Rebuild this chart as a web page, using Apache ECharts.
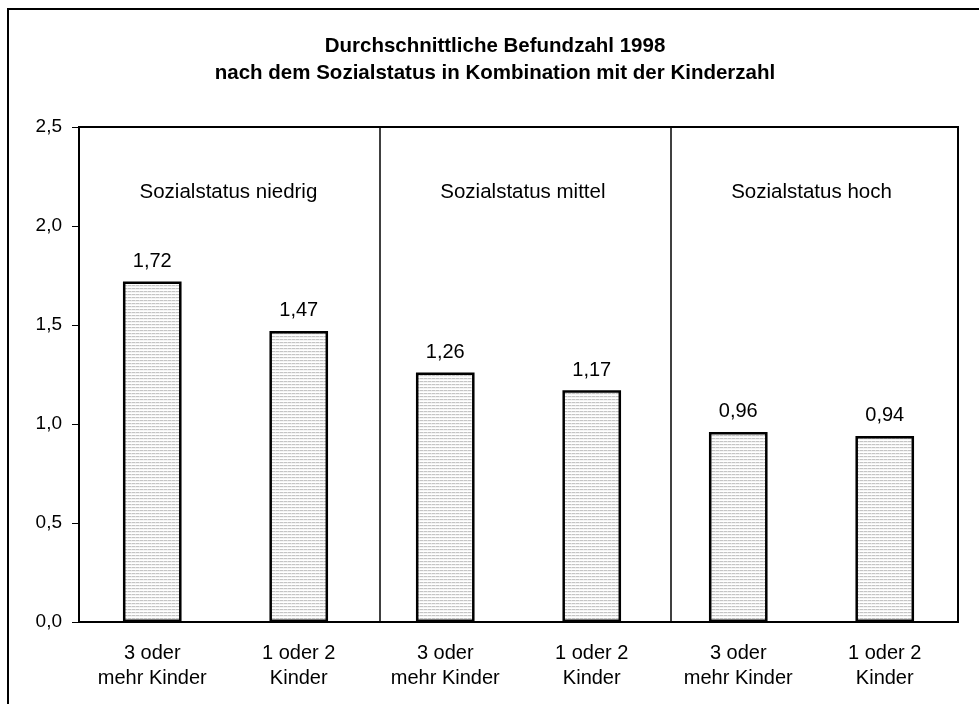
<!DOCTYPE html>
<html>
<head>
<meta charset="utf-8">
<style>
  html, body { margin: 0; padding: 0; background: #fff; }
  #chart { width: 979px; height: 704px; }
</style>
<script src="https://cdn.jsdelivr.net/npm/echarts@6/dist/echarts.min.js"></script>
</head>
<body>
<div id="chart"></div>
<script>
// Mean number of findings 1998 by social status and number of children
const categories = ['3 oder\nmehr Kinder', '1 oder 2\nKinder', '3 oder\nmehr Kinder', '1 oder 2\nKinder', '3 oder\nmehr Kinder', '1 oder 2\nKinder'];
const values = [1.72, 1.47, 1.26, 1.17, 0.96, 0.94];
const groupNames = ['Sozialstatus niedrig', 'Sozialstatus mittel', 'Sozialstatus hoch'];
const yTicks = [0, 0.5, 1.0, 1.5, 2.0, 2.5];

const FONT = '"Liberation Sans", Arial, sans-serif';
const fmt = v => v.toFixed(1).replace('.', ',');

// Fine light horizontal-hatch fill for the bars
function hatch() {
  const c = document.createElement('canvas');
  c.width = 4; c.height = 3;
  const g = c.getContext('2d');
  g.fillStyle = '#f4f4f4'; g.fillRect(0, 0, 4, 3);
  g.fillStyle = '#ffffff'; g.fillRect(0, 2, 4, 1);
  g.fillStyle = '#c4c4c4'; g.fillRect(0, 0, 3, 1);
  g.fillStyle = '#e0e0e0'; g.fillRect(3, 0, 1, 1);
  return c;
}

const chart = echarts.init(document.getElementById('chart'), null, { renderer: 'canvas' });
chart.setOption({
  backgroundColor: '#ffffff',
  animation: false,
  title: {
    text: 'Durchschnittliche Befundzahl 1998\nnach dem Sozialstatus in Kombination mit der Kinderzahl',
    left: 490, top: 28, textAlign: 'center',
    textStyle: { fontFamily: FONT, fontSize: 20.5, fontWeight: 'bold', color: '#000', lineHeight: 27 }
  },
  graphic: [{
    type: 'rect', silent: true, z: -1,
    shape: { x: 8, y: 9, width: 1100, height: 1100 },
    style: { fill: 'none', stroke: '#000', lineWidth: 2 }
  }],
  grid: {
    left: 79, right: 21, top: 127, bottom: 82,
    show: true, borderColor: '#000', borderWidth: 2, backgroundColor: 'transparent'
  },
  xAxis: [{
    type: 'category',
    data: categories,
    axisLine: { lineStyle: { color: '#000', width: 2 } },
    axisTick: { show: false },
    axisLabel: { fontFamily: FONT, fontSize: 20, color: '#000', lineHeight: 25, margin: 19, interval: 0 }
  }, {
    type: 'value', min: 0, max: 6, show: false
  }],
  yAxis: {
    type: 'value', min: 0, max: 2.5, interval: 0.5,
    axisLine: { show: true, lineStyle: { color: '#000', width: 2 } },
    axisTick: { show: true, length: 7, lineStyle: { color: '#000', width: 1 } },
    splitLine: { show: false },
    axisLabel: { fontFamily: FONT, fontSize: 19, color: '#000', margin: 17,
      formatter: v => yTicks.includes(v) ? fmt(v) : '' }
  },
  series: [{
    type: 'bar',
    data: values,
    barWidth: '40%',
    itemStyle: { color: { image: hatch(), repeat: 'repeat' }, borderColor: '#000', borderWidth: 2.5 },
    label: {
      show: true, position: 'top', distance: 10,
      fontFamily: FONT, fontSize: 20, color: '#000',
      formatter: p => p.value.toFixed(2).replace('.', ',')
    }
  }, {
    // group separators and group captions on a hidden 0..6 axis
    type: 'scatter',
    xAxisIndex: 1,
    symbolSize: 0,
    itemStyle: { opacity: 1, color: 'transparent' },
    data: [[1.02, 2.17], [3.03, 2.17], [5.0, 2.17]],
    label: {
      show: true, position: 'inside', opacity: 1,
      fontFamily: FONT, fontSize: 20.5, color: '#000',
      formatter: p => groupNames[p.dataIndex]
    },
    markLine: {
      silent: true, symbol: 'none',
      label: { show: false },
      lineStyle: { color: '#000', width: 1.5, type: 'solid', opacity: 1 },
      data: [{ xAxis: 2.048 }, { xAxis: 4.041 }]
    }
  }]
});
</script>
</body>
</html>
